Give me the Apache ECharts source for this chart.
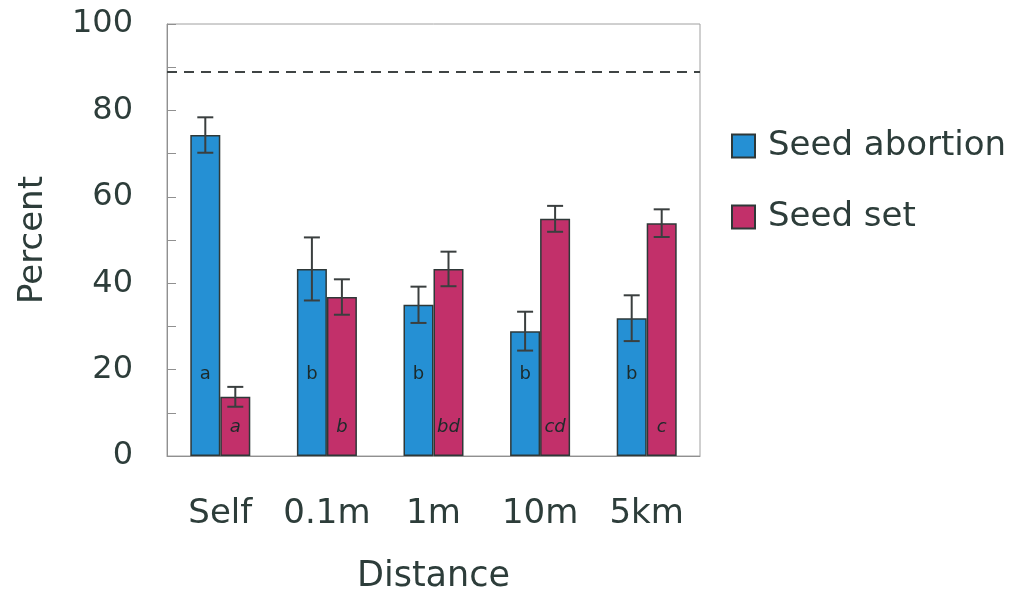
<!DOCTYPE html>
<html>
<head>
<meta charset="utf-8">
<style>
  html, body { margin: 0; padding: 0; background: #fff; }
  #chart { width: 1019px; height: 594px; }
</style>
<script src="https://cdn.jsdelivr.net/npm/echarts@6/dist/echarts.min.js"></script>
</head>
<body>
<div id="chart"></div>
<script>
// Pollination distance vs. seed fate
const categories = ['Self', '0.1m', '1m', '10m', '5km'];
const abortion = [74.3, 43.3, 35.0, 28.9, 31.9];
const abortionErr = [4.1, 7.3, 4.2, 4.5, 5.3];
const seedSet = [13.7, 36.8, 43.3, 54.9, 53.9];
const seedSetErr = [2.3, 4.1, 4.0, 3.0, 3.2];
const abortionLetters = ['a', 'b', 'b', 'b', 'b'];
const seedSetLetters = ['a', 'b', 'bd', 'cd', 'c'];
const referenceLevel = 89;

const textColor = '#2d3d3a';
const fontFamily = '"DejaVu Sans", Verdana, sans-serif';
const BAR_W = 30;

// Whisker renderer: offset shifts the whisker onto its own bar in the pair
function errorRenderer(offset) {
  return function (params, api) {
    const idx = api.value(0);
    const mean = api.value(1);
    const err = api.value(2);
    const top = api.coord([idx, mean + err]);
    const bot = api.coord([idx, mean - err]);
    const x = top[0] + offset;
    const cap = 8;
    const style = { stroke: '#3a3f3f', lineWidth: 2 };
    return {
      type: 'group',
      children: [
        { type: 'line', shape: { x1: x, y1: top[1], x2: x, y2: bot[1] }, style },
        { type: 'line', shape: { x1: x - cap, y1: top[1], x2: x + cap, y2: top[1] }, style },
        { type: 'line', shape: { x1: x - cap, y1: bot[1], x2: x + cap, y2: bot[1] }, style }
      ]
    };
  };
}

const chart = echarts.init(document.getElementById('chart'));
chart.setOption({
  animation: false,
  textStyle: { fontFamily },
  grid: {
    left: 167, right: 319, top: 24, bottom: 138,
    containLabel: false,
    outerBoundsMode: 'none',
    show: true, borderColor: '#a0a0a0', borderWidth: 1
  },
  legend: {
    orient: 'vertical',
    left: 726, top: 124,
    icon: 'rect',
    itemWidth: 23, itemHeight: 23,
    itemGap: 37,
    textStyle: { fontSize: 34, color: textColor, fontFamily, padding: [0, 0, 0, 8] },
    data: ['Seed abortion', 'Seed set']
  },
  xAxis: {
    type: 'category',
    data: categories,
    name: 'Distance',
    nameLocation: 'middle',
    nameGap: 103,
    nameTextStyle: { fontSize: 35, color: textColor },
    axisLine: { lineStyle: { color: '#909090', width: 1 } },
    axisTick: { inside: true, length: 9, lineStyle: { color: '#909090' } },
    axisLabel: { interval: 0, hideOverlap: false, fontSize: 34, color: textColor, margin: 41 }
  },
  yAxis: {
    type: 'value',
    min: 0, max: 100, interval: 20,
    name: 'Percent',
    nameLocation: 'middle',
    nameGap: 117,
    nameTextStyle: { fontSize: 34, color: textColor },
    axisLine: { show: true, lineStyle: { color: '#909090', width: 1 } },
    axisTick: { show: true, inside: true, length: 9, lineStyle: { color: '#909090' } },
    minorTick: { show: true, splitNumber: 2, length: 9, lineStyle: { color: '#909090' } },
    splitLine: { show: false },
    axisLabel: { fontSize: 32, color: textColor, margin: 34 }
  },
  series: [
    {
      name: 'Seed abortion',
      type: 'bar',
      data: abortion,
      barWidth: BAR_W,
      barGap: '0%',
      itemStyle: { color: '#2590d4', borderColor: '#2e3838', borderWidth: 1.5 },
      label: {
        show: true,
        position: 'insideBottom',
        distance: 73,
        fontSize: 18,
        color: '#1c2a2a',
        formatter: p => abortionLetters[p.dataIndex]
      },
      markLine: {
        silent: true,
        symbol: 'none',
        label: { show: false },
        lineStyle: { color: '#3f4444', width: 2, type: [10, 7] },
        data: [{ yAxis: referenceLevel }]
      }
    },
    {
      name: 'Seed set',
      type: 'bar',
      data: seedSet,
      barWidth: BAR_W,
      barGap: '0%',
      itemStyle: { color: '#c2306a', borderColor: '#2e3838', borderWidth: 1.5 },
      label: {
        show: true,
        position: 'insideBottom',
        distance: 20,
        fontSize: 18,
        fontStyle: 'italic',
        color: '#1c2a2a',
        formatter: p => seedSetLetters[p.dataIndex]
      }
    },
    {
      type: 'custom',
      renderItem: errorRenderer(-BAR_W / 2),
      data: abortion.map((v, i) => [i, v, abortionErr[i]]),
      z: 5,
      silent: true
    },
    {
      type: 'custom',
      renderItem: errorRenderer(BAR_W / 2),
      data: seedSet.map((v, i) => [i, v, seedSetErr[i]]),
      z: 5,
      silent: true
    }
  ]
});
</script>
</body>
</html>
